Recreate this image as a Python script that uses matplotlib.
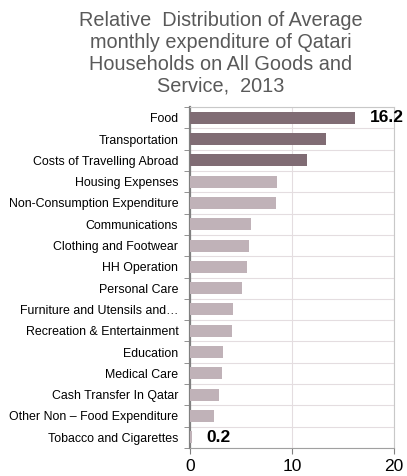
import matplotlib
matplotlib.use("Agg")
import matplotlib.pyplot as plt
import numpy as np

plt.rcParams["font.family"] = ["Liberation Sans", "DejaVu Sans"]

categories = ["Food", "Transportation", "Costs of Travelling Abroad", "Housing Expenses",
              "Non-Consumption Expenditure", "Communications", "Clothing and Footwear",
              "HH Operation", "Personal Care", "Furniture and Utensils and…",
              "Recreation & Entertainment", "Education", "Medical Care",
              "Cash Transfer In Qatar", "Other Non – Food Expenditure", "Tobacco and Cigarettes"]
values = [16.2, 13.3, 11.5, 8.5, 8.4, 6.0, 5.8, 5.6, 5.1, 4.2, 4.1, 3.2, 3.1, 2.8, 2.3, 0.2]
highlight = [True, True, True] + [False] * 13
xticks = [0, 10, 20]

dark = "#806c74"
light = "#c0b2b8"

fig = plt.figure(figsize=(4.07, 4.76), dpi=100)
ax = fig.add_axes([0.467, 0.059, 0.501, 0.716])

n = len(categories)
y = np.arange(n)
colors = [dark if h else light for h in highlight]
ax.barh(y, values, height=0.56, color=colors, zorder=3)
ax.set_ylim(n - 0.5, -0.5)
ax.set_xlim(0, 20)
ax.set_xticks(xticks)
ax.set_xticklabels([str(t) for t in xticks], fontsize=12.5)
ax.set_yticks(y)
ax.set_yticklabels(categories, fontsize=8.9)
ax.tick_params(axis="y", length=0, pad=8.5)
ax.set_yticks(np.arange(-0.5, n, 1), minor=True)
ax.tick_params(axis="y", which="minor", length=4, color="#808080", direction="out")
ax.tick_params(axis="x", length=4, color="#808080", direction="out", pad=4)
ax.grid(axis="x", color="#e4dde0", linewidth=0.8, zorder=0)
ax.grid(axis="y", which="minor", color="#e4dde0", linewidth=0.8, zorder=0)
ax.spines["left"].set_color("#808080")
ax.spines["left"].set_linewidth(1.6)
ax.spines["bottom"].set_color("#a0a0a0")
ax.spines["right"].set_color("#c8c8c8")
ax.spines["top"].set_color("#c8c8c8")

ax.text(19.3, 0, "16.2", fontsize=12.5, fontweight="bold", va="center", ha="center", zorder=4)
ax.text(1.6, n - 1, "0.2", fontsize=12.5, fontweight="bold", va="center", ha="left", zorder=4)

fig.text(0.543, 0.977, "Relative  Distribution of Average\nmonthly expenditure of Qatari\nHouseholds on All Goods and\nService,  2013",
         ha="center", va="top", fontsize=14.3, color="#595959", linespacing=1.2)

fig.savefig("out.png", dpi=100)
